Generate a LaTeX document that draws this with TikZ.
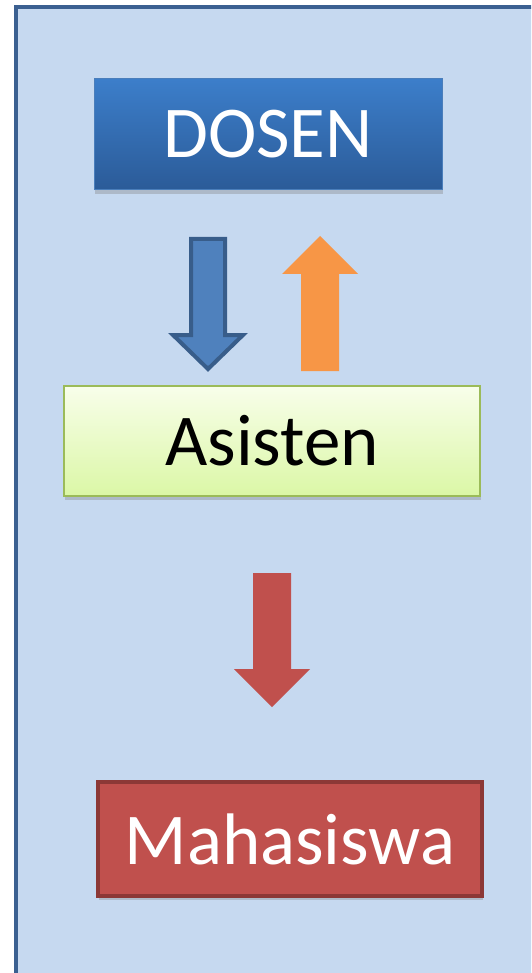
\documentclass[tikz,border=0pt]{standalone}
\usepackage{fontspec}
\setmainfont{Carlito}
\usetikzlibrary{shadows}
\definecolor{bgfill}{RGB}{198,217,240}
\definecolor{frameblue}{RGB}{59,96,145}
\definecolor{dosentop}{RGB}{60,126,202}
\definecolor{dosenbot}{RGB}{43,91,152}
\definecolor{dosenline}{RGB}{74,126,187}
\definecolor{asitop}{RGB}{248,254,234}
\definecolor{asibot}{RGB}{219,247,166}
\definecolor{asiline}{RGB}{155,187,89}
\definecolor{redfill}{RGB}{192,80,77}
\definecolor{redline}{RGB}{140,56,54}
\definecolor{bluefill}{RGB}{79,129,189}
\definecolor{blueline}{RGB}{56,93,138}
\definecolor{orangefill}{RGB}{247,150,70}
\tikzset{
  box/.style={rectangle, inner sep=0pt, font=\fontsize{73}{86}\selectfont,
    drop shadow={shadow xshift=1pt, shadow yshift=-4pt, opacity=0.35}},
}
\begin{document}
\begin{tikzpicture}[x=1pt,y=1pt]
\useasboundingbox (0,0) rectangle (531,-973);
\fill[white] (0,0) rectangle (531,-973);
\begin{scope}
\clip (0,0) rectangle (531,-973);
\draw[frameblue, line width=4pt, fill=bgfill] (16,-7) rectangle (560,-1000);
\end{scope}
% boxes
\node[box, minimum width=348pt, minimum height=111pt, top color=dosentop, bottom color=dosenbot,
  draw=dosenline, line width=1pt, text=white] (dosen) at (268,-134.5) {DOSEN};
\node[box, minimum width=416pt, minimum height=110pt, top color=asitop, bottom color=asibot,
  draw=asiline, line width=2pt, text=black] (asisten) at (272,-441) {Asisten};
\node[box, minimum width=384pt, minimum height=114pt, fill=redfill,
  draw=redline, line width=4pt, text=white] (mhs) at (290,-839) {Mahasiswa};
% block arrows
\draw[fill=bluefill, draw=blueline, line width=4pt, line join=miter]
  (191,-239) -- (225,-239) -- (225,-335) -- (243,-335) -- (208,-369) -- (173,-335) -- (191,-335) -- cycle;
\fill[orangefill]
  (301,-371) -- (339,-371) -- (339,-274) -- (358,-274) -- (320,-236) -- (282,-274) -- (301,-274) -- cycle;
\fill[redfill]
  (253,-573) -- (291,-573) -- (291,-669) -- (310,-669) -- (272,-707) -- (234,-669) -- (253,-669) -- cycle;
\end{tikzpicture}
\end{document}
